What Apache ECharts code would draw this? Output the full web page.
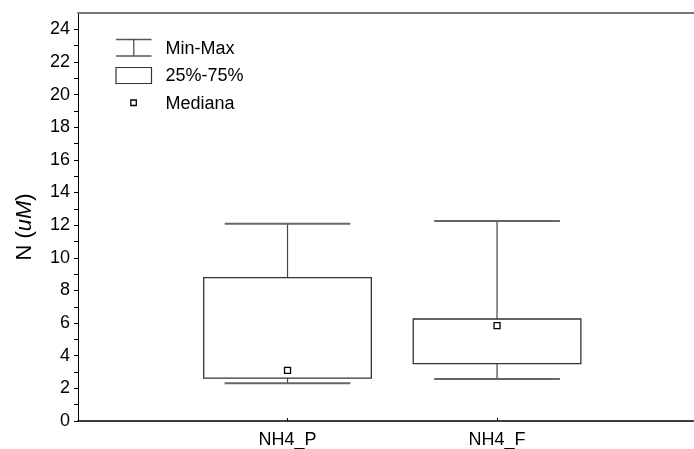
<!DOCTYPE html>
<html>
<head>
<meta charset="utf-8">
<script src="https://cdn.jsdelivr.net/npm/echarts@6/dist/echarts.min.js"></script>
<style>
html,body{margin:0;padding:0;background:#fff;}
#chart{width:694px;height:449px;}
</style>
</head>
<body>
<div id="chart"></div>
<script>
const categories = ['NH4_P', 'NH4_F'];
const minValues = [2.31, 2.57];
const q1Values = [2.63, 3.51];
const medianValues = [3.10, 5.84];
const q3Values = [8.78, 6.25];
const maxValues = [12.09, 12.25];
const yLabelValues = [0, 2, 4, 6, 8, 10, 12, 14, 16, 18, 20, 22, 24];
const yTickValues = [0, 1, 2, 3, 4, 5, 6, 7, 8, 9, 10, 11, 12, 13, 14, 15, 16, 17, 18, 19, 20, 21, 22, 23, 24];
const xTickValues = [1, 2];
const legendLabels = ['Min-Max', '25%-75%', 'Mediana'];

const FONT = 'Liberation Sans, Arial, sans-serif';
const boxData = categories.map((c, i) => [i + 1, minValues[i], q1Values[i], medianValues[i], q3Values[i], maxValues[i]]);

const chart = echarts.init(document.getElementById('chart'), null, {renderer: 'canvas'});

chart.setOption({
  animation: false,
  backgroundColor: '#fff',
  grid: {left: 78, right: 0, top: 13, bottom: 28, containLabel: false},
  xAxis: [{
    type: 'value', min: 0, max: 2.94,
    splitLine: {show: false},
    axisLine: {show: true, onZero: false, lineStyle: {color: '#000', width: 1.5}},
    axisTick: {show: true, inside: true, length: 3, customValues: xTickValues, lineStyle: {color: '#000'}},
    axisLabel: {
      customValues: xTickValues, margin: 10, color: '#000', fontSize: 18, fontFamily: FONT,
      formatter: v => categories[Math.round(v) - 1] || ''
    }
  }, {
    type: 'value', min: 0, max: 2.94, position: 'top',
    splitLine: {show: false},
    axisLine: {show: true, onZero: false, lineStyle: {color: '#777', width: 2}},
    axisTick: {show: false}, axisLabel: {show: false}
  }],
  yAxis: {
    type: 'value', min: 0, max: 25,
    splitLine: {show: false},
    axisLine: {show: true, onZero: false, lineStyle: {color: '#000', width: 1}},
    axisTick: {show: true, inside: false, length: 4, customValues: yTickValues, lineStyle: {color: '#000'}},
    axisLabel: {customValues: yLabelValues, margin: 8, color: '#000', fontSize: 18, fontFamily: FONT},
    name: '{n|N (}{i|uM}{n|)}',
    nameLocation: 'middle',
    nameGap: 42,
    nameRotate: 90,
    nameTextStyle: {
      color: '#000', fontSize: 22, fontFamily: FONT,
      padding: [0, 20, 0, 0],
      rich: {
        n: {color: '#000', fontSize: 22, fontFamily: FONT},
        i: {color: '#000', fontSize: 22, fontFamily: FONT, fontStyle: 'italic'}
      }
    }
  },
  series: [{
    type: 'custom',
    name: 'Box',
    xAxisIndex: 0,
    yAxisIndex: 0,
    data: boxData,
    encode: {x: 0, y: [1, 2, 3, 4, 5]},
    renderItem: function (params, api) {
      const x = api.value(0);
      const pMin = api.coord([x, api.value(1)]);
      const pQ1 = api.coord([x, api.value(2)]);
      const pMed = api.coord([x, api.value(3)]);
      const pQ3 = api.coord([x, api.value(4)]);
      const pMax = api.coord([x, api.value(5)]);
      const band = api.size([1, 0])[0];
      const bw = band * 0.8, cw = band * 0.6;
      const cx = pMin[0];
      const capStyle = {stroke: '#666', lineWidth: 2};
      const stemStyle = {stroke: '#444', lineWidth: 1.2};
      const boxStyle = {stroke: '#333', lineWidth: 1.3, fill: 'none'};
      return {
        type: 'group',
        children: [
          {type: 'line', shape: {x1: cx, y1: pMax[1], x2: cx, y2: pQ3[1]}, style: stemStyle},
          {type: 'line', shape: {x1: cx, y1: pQ1[1], x2: cx, y2: pMin[1]}, style: stemStyle},
          {type: 'line', shape: {x1: cx - cw / 2, y1: pMax[1], x2: cx + cw / 2, y2: pMax[1]}, style: capStyle},
          {type: 'line', shape: {x1: cx - cw / 2, y1: pMin[1], x2: cx + cw / 2, y2: pMin[1]}, style: capStyle},
          {type: 'rect', shape: {x: cx - bw / 2, y: pQ3[1], width: bw, height: pQ1[1] - pQ3[1]}, style: boxStyle},
          {type: 'rect', shape: {x: cx - 3, y: pMed[1] - 3, width: 6, height: 6}, style: {stroke: '#000', lineWidth: 1.3, fill: '#fff'}}
        ]
      };
    }
  }],
  graphic: [
    {type: 'line', shape: {x1: 116, y1: 39.5, x2: 151.5, y2: 39.5}, style: {stroke: '#555', lineWidth: 1.5}},
    {type: 'line', shape: {x1: 133.8, y1: 39.5, x2: 133.8, y2: 56}, style: {stroke: '#444', lineWidth: 1.2}},
    {type: 'line', shape: {x1: 116, y1: 56, x2: 151.5, y2: 56}, style: {stroke: '#555', lineWidth: 1.5}},
    {type: 'rect', shape: {x: 116, y: 67.5, width: 35.5, height: 16}, style: {stroke: '#333', lineWidth: 1.2, fill: 'none'}},
    {type: 'rect', shape: {x: 130.8, y: 100, width: 5.5, height: 5.5}, style: {stroke: '#000', lineWidth: 1.3, fill: '#fff'}},
    {type: 'text', x: 165.5, y: 49, style: {text: legendLabels[0], fill: '#000', fontSize: 18, fontFamily: FONT, verticalAlign: 'middle'}},
    {type: 'text', x: 165.5, y: 76.5, style: {text: legendLabels[1], fill: '#000', fontSize: 18, fontFamily: FONT, verticalAlign: 'middle'}},
    {type: 'text', x: 165.5, y: 104, style: {text: legendLabels[2], fill: '#000', fontSize: 18, fontFamily: FONT, verticalAlign: 'middle'}}
  ]
});
</script>
</body>
</html>
